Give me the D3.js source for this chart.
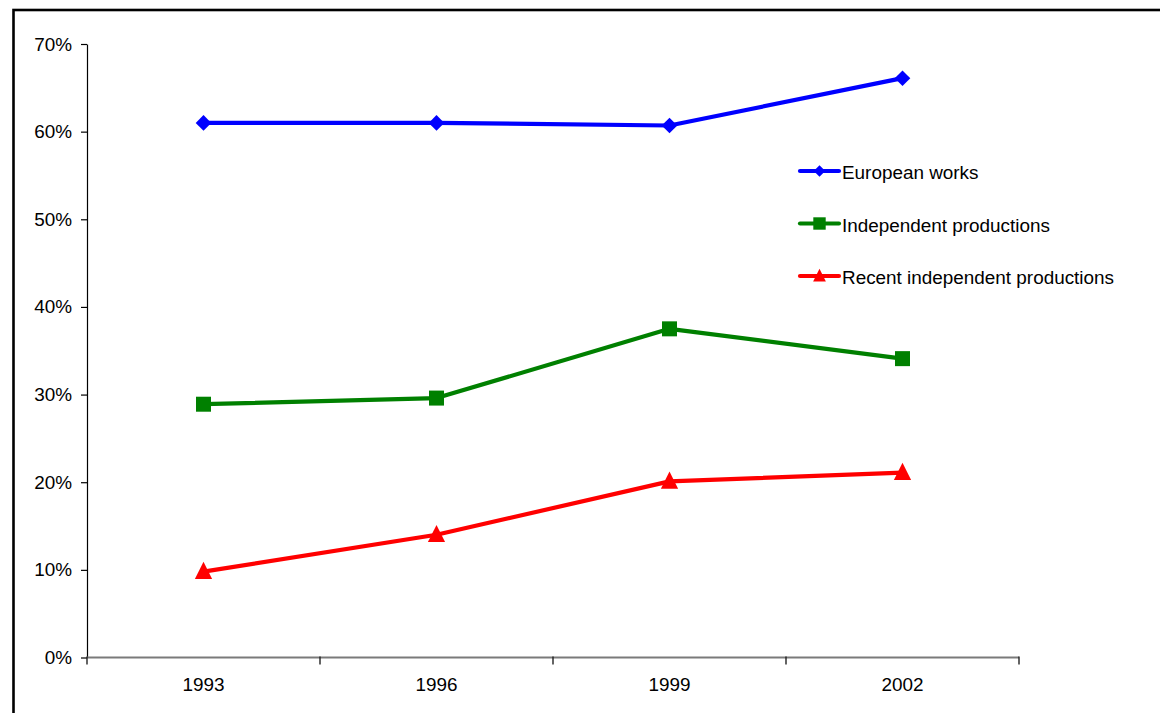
<!DOCTYPE html>
<html>
<head>
<meta charset="utf-8">
<script src="https://cdn.jsdelivr.net/npm/d3@7"></script>
<style>
  html, body { margin: 0; padding: 0; background: #fff; }
  svg { display: block; font-family: Arial, "Liberation Sans", sans-serif; }
</style>
</head>
<body>
<svg id="chart" width="1160" height="713"></svg>
<script>
// Share of transmission time, by year
const years = ["1993", "1996", "1999", "2002"];
const europeanWorks = [61.0, 61.0, 60.7, 66.1];
const independentProductions = [28.9, 29.6, 37.5, 34.1];
const recentIndependent = [9.8, 14.0, 20.1, 21.1];
const yTicks = [0, 10, 20, 30, 40, 50, 60, 70];

const series = [
  { name: "European works", values: europeanWorks, color: "#0000ff", marker: "diamond" },
  { name: "Independent productions", values: independentProductions, color: "#008000", marker: "square" },
  { name: "Recent independent productions", values: recentIndependent, color: "#ff0000", marker: "triangle" }
];

const svg = d3.select("#chart");
const plotLeft = 87, plotRight = 1019, plotTop = 44, plotBottom = 657.5;
const fontSize = "18.9px";

// Outer frame
svg.append("rect")
  .attr("x", 13.5).attr("y", 10)
  .attr("width", 1200).attr("height", 800)
  .attr("fill", "none").attr("stroke", "#000").attr("stroke-width", 2.6);

const x = d3.scaleBand().domain(years).range([plotLeft, plotRight]);
const y = d3.scaleLinear().domain([0, 70]).range([plotBottom, plotTop]);

// Y axis
const yAxis = svg.append("g")
  .attr("transform", `translate(${plotLeft},0)`)
  .call(d3.axisLeft(y).tickValues(yTicks).tickFormat(d => d + "%").tickSize(6).tickSizeOuter(0).tickPadding(9));
yAxis.select(".domain").attr("stroke", "#000").attr("stroke-width", 1.2);
yAxis.selectAll(".tick line").attr("stroke", "#000").attr("stroke-width", 1.2);
yAxis.selectAll("text").attr("font-size", fontSize).attr("fill", "#000")
  .attr("font-family", "Arial, 'Liberation Sans', sans-serif");

// X axis: ticks at category boundaries
const xAxisG = svg.append("g").attr("transform", `translate(0,${plotBottom})`);
xAxisG.append("line")
  .attr("x1", plotLeft).attr("x2", plotRight).attr("y1", 0).attr("y2", 0)
  .attr("stroke", "#7a7a7a").attr("stroke-width", 2);
const boundaries = years.map(d => x(d)).concat([x(years[years.length - 1]) + x.bandwidth()]);
xAxisG.selectAll("line.bt").data(boundaries).join("line")
  .attr("class", "bt")
  .attr("x1", d => d).attr("x2", d => d).attr("y1", -1).attr("y2", 7)
  .attr("stroke", "#222").attr("stroke-width", 1.4);
xAxisG.selectAll("text").data(years).join("text")
  .attr("x", d => x(d) + x.bandwidth() / 2)
  .attr("y", 33.5)
  .attr("text-anchor", "middle")
  .attr("font-size", fontSize)
  .attr("fill", "#000")
  .text(d => d);

const cx = d => x(d) + x.bandwidth() / 2;

function markerPath(type, s) {
  if (type === "diamond") return `M0,${-s}L${s},0L0,${s}L${-s},0Z`;
  if (type === "square") return `M${-s},${-s}H${s}V${s}H${-s}Z`;
  return `M0,${-s * 1.15}L${s},${s * 0.85}L${-s},${s * 0.85}Z`;
}
const markerSize = { diamond: 7.8, square: 7.5, triangle: 8.6 };
const legendMarkerSize = { diamond: 5.8, square: 6.2, triangle: 6.4 };

const line = d3.line().x((d, i) => cx(years[i])).y(d => y(d));

series.forEach(s => {
  svg.append("path")
    .attr("d", line(s.values))
    .attr("fill", "none")
    .attr("stroke", s.color)
    .attr("stroke-width", 4.2)
    .attr("stroke-linejoin", "round");
  svg.append("g").selectAll("path").data(s.values).join("path")
    .attr("transform", (d, i) => `translate(${cx(years[i])},${y(d)})`)
    .attr("d", markerPath(s.marker, markerSize[s.marker]))
    .attr("fill", s.color);
});

// Legend
const legendY = [171, 223.5, 276];
const legend = svg.append("g");
series.forEach((s, i) => {
  const g = legend.append("g").attr("transform", `translate(0,${legendY[i]})`);
  g.append("line").attr("x1", 800).attr("x2", 839).attr("y1", 0).attr("y2", 0)
    .attr("stroke", s.color).attr("stroke-width", 4.2).attr("stroke-linecap", "round");
  g.append("path").attr("transform", "translate(819.5,0)")
    .attr("d", markerPath(s.marker, legendMarkerSize[s.marker])).attr("fill", s.color);
  g.append("text").attr("x", 842).attr("y", 8.3)
    .attr("font-size", fontSize).attr("fill", "#000").text(s.name);
});
</script>
</body>
</html>
